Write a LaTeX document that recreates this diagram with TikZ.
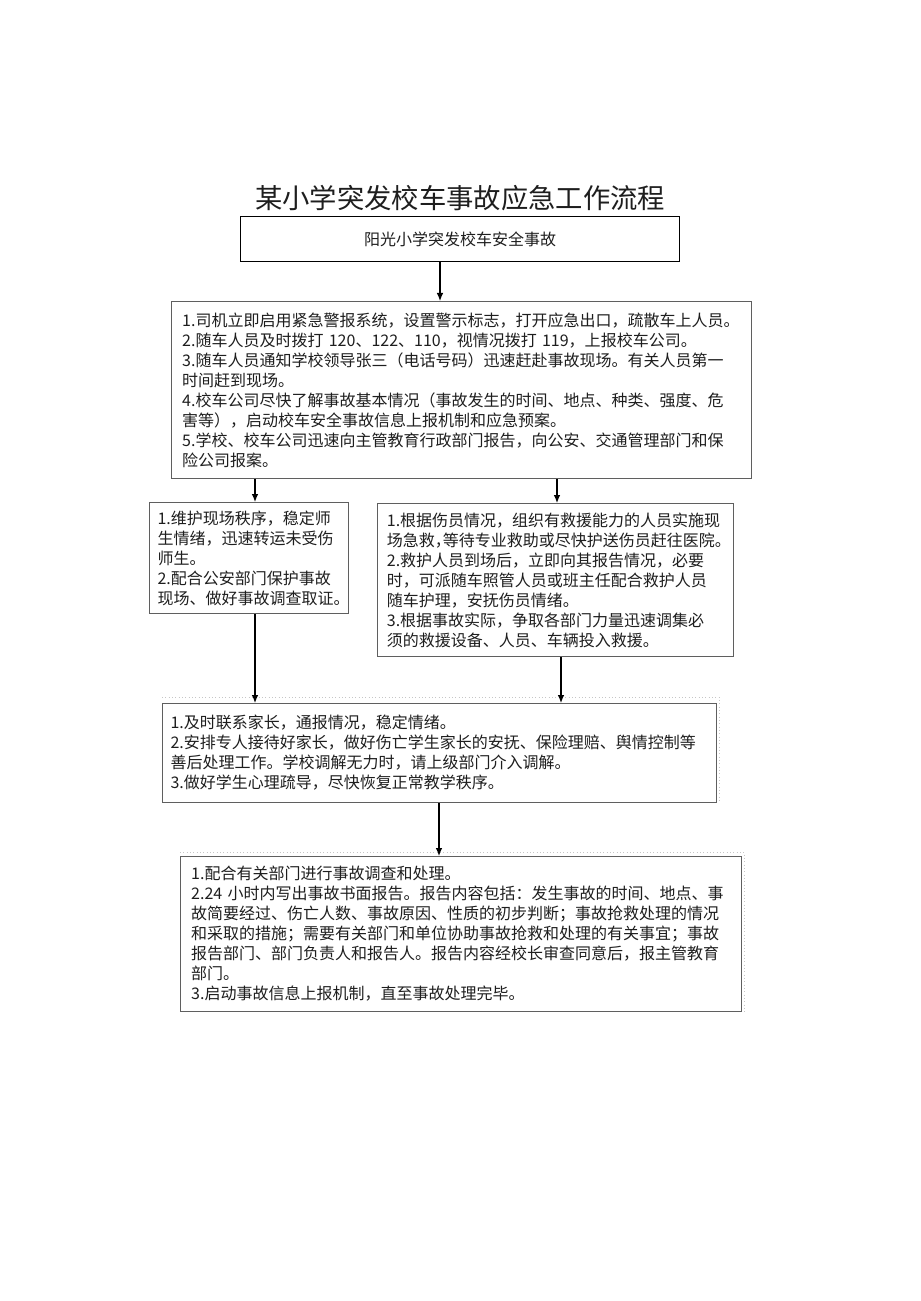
\documentclass[tikz,border=0pt]{standalone}
\usepackage{fontspec}
\setmainfont{Noto Sans CJK SC}
\usetikzlibrary{arrows.meta,positioning}
\newcommand\halfstop{\makebox[0.5em][l]{。}}
\newcommand\halfcomma{\makebox[0.5em][l]{，}}
\begin{document}
\begin{tikzpicture}[x=0.75pt,y=-0.75pt,
  stepbox/.style={draw=boxgray, line width=0.8pt, anchor=north west, align=left,
    inner xsep=8pt, inner ysep=0pt, text=inkblack,
    font=\fontsize{12pt}{15pt}\selectfont},
  arr/.style={-{Latex[length=6pt,width=5pt]}, line width=0.9pt},
  ghost/.style={draw=gray!45, dotted, line width=0.5pt}]
  \definecolor{boxgray}{RGB}{95,95,95}
  \definecolor{inkblack}{RGB}{30,30,30}

  % Page
  \path[fill=white] (0,0) rectangle (920,1301);

  % Title and first box
  \node[text=inkblack, font=\fontsize{20.5pt}{22pt}\selectfont] (title) at (460,198) {某小学突发校车事故应急工作流程};
  \node[draw=black, line width=1pt, anchor=north west, minimum width=329.25pt, minimum height=33.75pt,
    text=inkblack, font=\fontsize{12pt}{15pt}\selectfont] (accident) at (240,216) {阳光小学突发校车安全事故};

  % Steps
  \node[stepbox, minimum width=435pt, text width=419pt, minimum height=132.75pt] (steps) at (171,301)
    {1.司机立即启用紧急警报系统，设置警示标志，打开应急出口，疏散车上人员。\\
     2.随车人员及时拨打 120、122、110，视情况拨打 119，上报校车公司。\\
     3.随车人员通知学校领导张三（电话号码）迅速赶赴事故现场。有关人员第一\\
     时间赶到现场。\\
     4.校车公司尽快了解事故基本情况（事故发生的时间、地点、种类、强度、危\\
     害等），启动校车安全事故信息上报机制和应急预案。\\
     5.学校、校车公司迅速向主管教育行政部门报告，向公安、交通管理部门和保\\
     险公司报案。};
  \node[stepbox, inner xsep=6pt, minimum width=149.25pt, text width=137.25pt, minimum height=83.25pt] (site) at (149,502)
    {1.维护现场秩序，稳定师\\
     生情绪，迅速转运未受伤\\
     师生。\\
     2.配合公安部门保护事故\\
     现场、做好事故调查取证\halfstop};
  \node[stepbox, inner xsep=7pt, minimum width=267pt, text width=253pt, minimum height=114.75pt] (rescue) at (377,503)
    {1.根据伤员情况，组织有救援能力的人员实施现\\
     场急救\halfcomma 等待专业救助或尽快护送伤员赶往医院\halfstop\\
     2.救护人员到场后，立即向其报告情况，必要\\
     时，可派随车照管人员或班主任配合救护人员\\
     随车护理，安抚伤员情绪。\\
     3.根据事故实际，争取各部门力量迅速调集必\\
     须的救援设备、人员、车辆投入救援。};
  \node[stepbox, inner xsep=6pt, minimum width=415.5pt, text width=403.5pt, minimum height=74.25pt] (parents) at (162,703)
    {1.及时联系家长，通报情况，稳定情绪。\\
     2.安排专人接待好家长，做好伤亡学生家长的安抚、保险理赔、舆情控制等\\
     善后处理工作。学校调解无力时，请上级部门介入调解。\\
     3.做好学生心理疏导，尽快恢复正常教学秩序。};
  \node[stepbox, minimum width=420.75pt, text width=404.75pt, minimum height=116.25pt] (report) at (180,856)
    {1.配合有关部门进行事故调查和处理。\\
     2.24 小时内写出事故书面报告。报告内容包括：发生事故的时间、地点、事\\
     故简要经过、伤亡人数、事故原因、性质的初步判断；事故抢救处理的情况\\
     和采取的措施；需要有关部门和单位协助事故抢救和处理的有关事宜；事故\\
     报告部门、部门负责人和报告人。报告内容经校长审查同意后，报主管教育\\
     部门。\\
     3.启动事故信息上报机制，直至事故处理完毕。};

  % Faint frames
  \draw[ghost] ([yshift=4.5pt]parents.north west) -| ([xshift=1.5pt]parents.south east);
  \draw[ghost] ([yshift=3pt]report.north west) -| ([xshift=1.5pt]report.south east);

  % Arrows
  \foreach \a/\b/\x in {accident/steps/440, steps/site/255, steps/rescue/557,
                        site/parents/255, rescue/parents/561, parents/report/439}
    \draw[arr] (\a.south -| \x,0) -- (\b.north -| \x,0);
\end{tikzpicture}
\end{document}
